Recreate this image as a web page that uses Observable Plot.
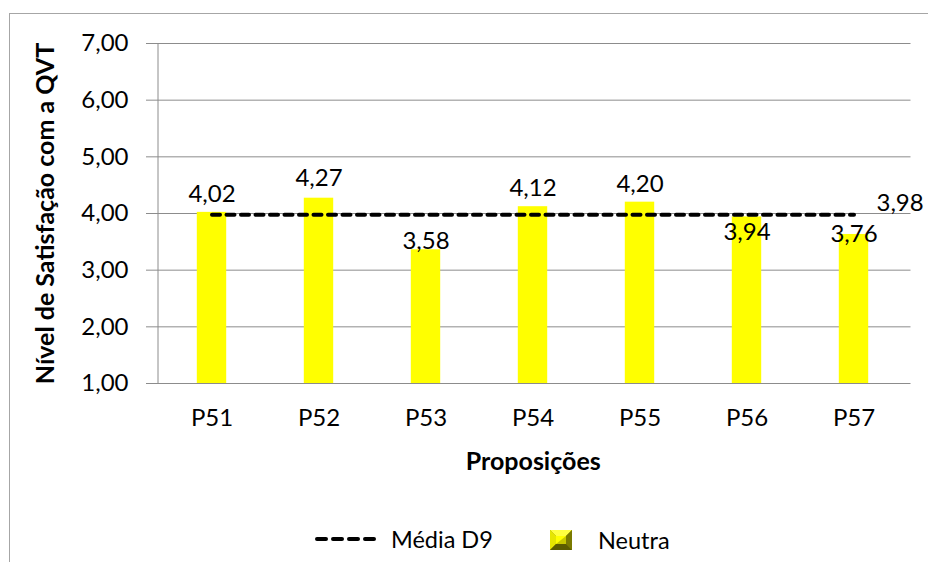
<!DOCTYPE html>
<html>
<head>
<meta charset="utf-8">
<script src="https://cdn.jsdelivr.net/npm/d3@7"></script>
<script src="https://cdn.jsdelivr.net/npm/@observablehq/plot@0.6"></script>
<style>
  html, body { margin: 0; padding: 0; background: #fff; overflow: hidden; }
  #wrap { position: relative; width: 928px; height: 562px; overflow: hidden; font-family: Lato, "Open Sans", sans-serif; }
  #frame { position: absolute; left: 9px; top: 13px; width: 960px; height: 600px; border: 1px solid #a6a6a6; box-sizing: border-box; }
  #chart { position: absolute; left: 0; top: 0; }
  #legend { position: absolute; left: 0; top: 0; width: 928px; height: 562px; pointer-events: none; }
  .lt { position: absolute; font-size: 23.5px; line-height: 24px; color: #000; }
</style>
</head>
<body>
<div id="wrap">
  <div id="frame"></div>
  <div id="chart"></div>
  <div id="legend">
    <svg width="928" height="562" style="position:absolute;left:0;top:0">
      <line x1="315" y1="539" x2="378" y2="539" stroke="#000" stroke-width="4" stroke-dasharray="9,7" stroke-linecap="round" stroke-dashoffset="-2"/>
      <g transform="translate(550,530)">
        <rect x="0" y="0" width="22" height="20" fill="#8a8a00"/>
        <polygon points="0,0 22,0 16,6 6,6" fill="#ffff40"/>
        <polygon points="0,0 6,6 6,14 0,20" fill="#e6e600"/>
        <polygon points="22,0 22,20 16,14 16,6" fill="#7a7a00"/>
        <polygon points="0,20 6,14 16,14 22,20" fill="#5c5c00"/>
        <rect x="6" y="6" width="10" height="8" fill="#c8c800"/>
        <polygon points="6,6 16,6 6,14" fill="#ffff00"/>
      </g>
    </svg>
    <div class="lt" id="lg1" style="left:391px; top:527px;">Média D9</div>
    <div class="lt" id="lg2" style="left:598px; top:528px;">Neutra</div>
  </div>
</div>
<script>
// ---- data ----
const categories = ["P51", "P52", "P53", "P54", "P55", "P56", "P57"];
const barValues = [4.02, 4.27, 3.36, 4.12, 4.20, 3.94, 3.63];
const barLabels = ["4,02", "4,27", "3,58", "4,12", "4,20", "3,94", "3,76"];
const meanValue = 3.98;
const meanLabel = "3,98";
const yTicks = [1, 2, 3, 4, 5, 6, 7];
const yTitle = "Nível de Satisfação com a QVT";
const xTitle = "Proposições";

// manual label nudges (style, in px): above-bar offsets, or offsets from the mean line
const labelDy = [-18, -20, 27, -18, -18, 18, 19.5];
const labelFromMean = [false, false, true, false, false, true, true];

const data = categories.map((c, i) => ({cat: c, v: barValues[i], label: barLabels[i]}));
const fmt = d => d.toFixed(2).replace(".", ",");
const grid = "#8c8c8c";
const FS = 24;

const chart = Plot.plot({
  width: 928,
  height: 562,
  marginLeft: 155,
  marginRight: 17.5,
  marginTop: 43,
  marginBottom: 179,
  style: {fontFamily: "Lato, 'Open Sans', sans-serif", fontSize: FS + "px", color: "#000", background: "transparent", overflow: "visible"},
  x: {domain: categories, padding: 0, axis: null},
  y: {domain: [1, 7], axis: null},
  marks: [
    Plot.ruleY(yTicks, {stroke: grid, strokeWidth: 1, insetLeft: -9}),
    Plot.ruleX([0], {x: () => categories[0], y1: 1, y2: 7, stroke: grid, dx: -54}),
    Plot.barY(data, {x: "cat", y1: 1, y2: "v", fill: "#ffff00", insetLeft: 38.8, insetRight: 38.8}),
    Plot.lineY(data, {x: "cat", y: () => meanValue, stroke: "#000", strokeWidth: 4, strokeDasharray: "8,6.5", strokeLinecap: "round"}),
    ...data.map((d, i) => Plot.text([d], {
      x: "cat",
      y: labelFromMean[i] ? () => meanValue : "v",
      text: "label",
      dy: labelDy[i],
      fill: "#000",
      fontSize: FS,
      lineAnchor: "middle"
    })),
    Plot.text([meanValue], {x: () => categories[categories.length - 1], y: d => d, text: () => meanLabel, dx: 22.5, dy: -11, textAnchor: "start", fontSize: FS, lineAnchor: "middle"}),
    Plot.text(yTicks, {y: d => d, frameAnchor: "left", text: fmt, dx: -27, textAnchor: "end", fontSize: FS, lineAnchor: "middle"}),
    Plot.text(categories, {x: d => d, frameAnchor: "bottom", text: d => d, dy: 35, fontSize: FS, lineAnchor: "middle"}),
    Plot.text([xTitle], {frameAnchor: "bottom", dy: 78, fontWeight: "bold", fontSize: 25, lineAnchor: "middle", textAnchor: "middle"}),
    Plot.text([yTitle], {frameAnchor: "left", rotate: -90, dx: -110, fontWeight: "bold", fontSize: 25, lineAnchor: "middle", textAnchor: "middle"})
  ]
});
document.getElementById("chart").appendChild(chart);
</script>
</body>
</html>
